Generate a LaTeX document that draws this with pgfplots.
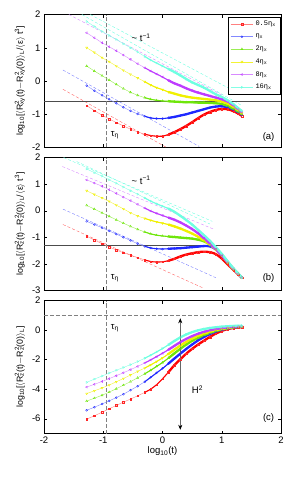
\documentclass[border=0pt]{standalone}
\usepackage{fontspec}
\setmainfont{Liberation Sans}
\newfontfamily\monofont{Liberation Mono}
\usepackage{pgfplots}
\usepackage{pgfplotstable}
\pgfplotsset{compat=1.18}
\usetikzlibrary{arrows.meta}

\definecolor{cR}{RGB}{255,0,0}
\definecolor{cB}{RGB}{30,40,255}
\definecolor{cG}{RGB}{110,230,10}
\definecolor{cY}{RGB}{240,240,0}
\definecolor{cP}{RGB}{190,60,255}
\definecolor{cC}{RGB}{110,255,225}

\pgfplotstableread{
x r b g y p c
-1.28 -0.74 -0.14 0.45 1.00 1.45 1.79
-1.15 -0.89 -0.29 0.30 0.86 1.30 1.64
-1.02 -1.03 -0.43 0.16 0.70 1.15 1.49
-0.90 -1.14 -0.55 0.03 0.58 1.03 1.37
-0.78 -1.25 -0.67 -0.10 0.45 0.91 1.25
-0.66 -1.35 -0.79 -0.23 0.32 0.78 1.12
-0.54 -1.45 -0.90 -0.34 0.20 0.65 1.00
-0.42 -1.53 -0.99 -0.43 0.09 0.52 0.87
-0.30 -1.60 -1.06 -0.50 -0.02 0.40 0.74
-0.20 -1.64 -1.11 -0.55 -0.12 0.30 0.63
-0.10 -1.66 -1.13 -0.58 -0.20 0.21 0.54
0.00 -1.66 -1.13 -0.60 -0.26 0.12 0.45
0.10 -1.61 -1.11 -0.61 -0.33 0.02 0.36
0.20 -1.54 -1.08 -0.62 -0.38 -0.07 0.27
0.30 -1.45 -1.04 -0.63 -0.43 -0.14 0.17
0.40 -1.35 -1.00 -0.64 -0.47 -0.22 0.06
0.50 -1.24 -0.95 -0.64 -0.50 -0.29 -0.04
0.60 -1.12 -0.90 -0.65 -0.52 -0.35 -0.12
0.70 -1.01 -0.85 -0.65 -0.54 -0.40 -0.20
0.80 -0.93 -0.80 -0.66 -0.56 -0.45 -0.30
0.90 -0.87 -0.77 -0.67 -0.58 -0.50 -0.40
1.00 -0.84 -0.76 -0.69 -0.62 -0.55 -0.48
1.10 -0.85 -0.79 -0.75 -0.68 -0.62 -0.58
1.20 -0.91 -0.86 -0.84 -0.78 -0.74 -0.70
1.28 -0.98 -0.94 -0.92 -0.88 -0.85 -0.82
1.34 -1.05 -1.02 -1.00 -0.97 -0.94 -0.90
}\tabA

\pgfplotstableread{
x r b g y p c
-1.28 -0.96 -0.40 0.20 0.75 1.16 1.57
-1.15 -1.10 -0.52 0.06 0.61 1.04 1.43
-1.02 -1.24 -0.64 -0.08 0.48 0.92 1.30
-0.90 -1.36 -0.76 -0.21 0.35 0.79 1.16
-0.78 -1.48 -0.88 -0.34 0.21 0.65 1.03
-0.66 -1.58 -1.00 -0.47 0.07 0.51 0.89
-0.54 -1.67 -1.12 -0.59 -0.08 0.38 0.75
-0.42 -1.76 -1.24 -0.70 -0.20 0.24 0.62
-0.30 -1.85 -1.34 -0.80 -0.29 0.10 0.48
-0.20 -1.91 -1.40 -0.87 -0.36 -0.01 0.36
-0.10 -1.93 -1.43 -0.92 -0.42 -0.10 0.26
0.00 -1.92 -1.44 -0.95 -0.47 -0.18 0.17
0.10 -1.88 -1.43 -0.97 -0.52 -0.26 0.08
0.20 -1.81 -1.42 -0.99 -0.59 -0.34 -0.04
0.30 -1.72 -1.41 -1.01 -0.67 -0.44 -0.19
0.40 -1.65 -1.39 -1.03 -0.76 -0.56 -0.35
0.50 -1.60 -1.37 -1.05 -0.86 -0.69 -0.52
0.60 -1.56 -1.35 -1.09 -0.98 -0.85 -0.72
0.70 -1.54 -1.33 -1.15 -1.12 -1.04 -0.92
0.80 -1.56 -1.34 -1.27 -1.28 -1.24 -1.13
0.90 -1.63 -1.45 -1.45 -1.46 -1.45 -1.37
1.00 -1.80 -1.68 -1.68 -1.68 -1.68 -1.62
1.10 -2.02 -1.95 -1.95 -1.95 -1.94 -1.90
1.20 -2.23 -2.20 -2.20 -2.20 -2.19 -2.17
1.28 -2.40 -2.38 -2.38 -2.38 -2.38 -2.36
1.34 -2.52 -2.52 -2.52 -2.52 -2.52 -2.52
}\tabB

\pgfplotstableread{
x r b g y p c
-1.28 -6.03 -5.43 -4.81 -4.30 -3.86 -3.54
-1.15 -5.80 -5.22 -4.61 -4.11 -3.67 -3.32
-1.02 -5.56 -5.00 -4.41 -3.92 -3.48 -3.11
-0.90 -5.33 -4.79 -4.20 -3.72 -3.29 -2.91
-0.78 -5.10 -4.57 -3.97 -3.50 -3.09 -2.72
-0.66 -4.88 -4.34 -3.73 -3.28 -2.89 -2.53
-0.54 -4.67 -4.07 -3.49 -3.04 -2.68 -2.34
-0.42 -4.45 -3.80 -3.23 -2.80 -2.46 -2.13
-0.30 -4.22 -3.50 -2.96 -2.57 -2.23 -1.91
-0.20 -4.00 -3.20 -2.72 -2.36 -2.02 -1.70
-0.10 -3.70 -2.90 -2.46 -2.13 -1.80 -1.48
0.00 -3.30 -2.60 -2.20 -1.89 -1.57 -1.25
0.10 -2.85 -2.27 -1.90 -1.62 -1.33 -1.00
0.20 -2.38 -1.93 -1.58 -1.33 -1.07 -0.74
0.30 -1.98 -1.60 -1.27 -1.05 -0.82 -0.50
0.40 -1.60 -1.28 -0.98 -0.80 -0.60 -0.30
0.50 -1.27 -0.98 -0.73 -0.58 -0.41 -0.14
0.60 -0.98 -0.70 -0.52 -0.39 -0.25 -0.02
0.70 -0.72 -0.47 -0.34 -0.24 -0.12 0.07
0.80 -0.46 -0.27 -0.19 -0.11 -0.02 0.14
0.90 -0.24 -0.10 -0.06 0.00 0.07 0.19
1.00 -0.06 0.02 0.04 0.08 0.13 0.23
1.10 0.07 0.11 0.12 0.15 0.18 0.26
1.20 0.14 0.17 0.18 0.20 0.22 0.28
1.28 0.18 0.20 0.21 0.22 0.24 0.29
1.34 0.19 0.21 0.22 0.23 0.25 0.30
}\tabC

\pgfplotsset{
  panel/.style={width=237pt, height=133pt, scale only axis,
    xmin=-2, xmax=2, xtick={-2,-1,0,1,2},
    tick align=inside, major tick length=3pt,
    tick style={black, line width=0.4pt},
    axis line style={black, line width=0.5pt},
    ticklabel style={font=\fontsize{9.5}{10}\selectfont},
    /pgf/number format/assume math mode=true,
    every axis y label/.style={at={(axis description cs:0,0.5)}, xshift=-24pt, rotate=90, anchor=center, font=\fontsize{8.8}{9}\selectfont},
    every axis x label/.style={at={(axis description cs:0.5,0)}, yshift=-18pt, anchor=center, font=\fontsize{9.5}{10}\selectfont},
    legend image code/.code={\draw[mark repeat=2,mark phase=2,##1] plot coordinates {(0cm,0cm) (0.4cm,0cm) (0.8cm,0cm)};},
  },
  sR/.style={cR!50, line width=0.4pt, mark=square, mark size=0.8pt, mark options={cR!85, solid, line width=0.3pt}},
  sB/.style={cB!55, line width=0.4pt, mark=o, mark size=1.0pt, mark options={cB, solid, line width=0.35pt}},
  sG/.style={cG!70, line width=0.4pt, mark=triangle, mark size=1.2pt, mark options={cG, solid, line width=0.35pt}},
  sY/.style={cY!80, line width=0.4pt, mark=triangle, mark size=1.2pt, mark options={cY, solid, rotate=180, line width=0.35pt}},
  sP/.style={cP!60, line width=0.4pt, mark=triangle, mark size=1.2pt, mark options={cP, solid, rotate=90, line width=0.35pt}},
  sC/.style={cC!85, line width=0.4pt, mark=triangle, mark size=1.2pt, mark options={cC, solid, rotate=-90, line width=0.35pt}},
}

\newcommand{\series}[4]{%
  \addplot[#3] table[x=x,y=#2]{#1};
  \addplot[forget plot, #4, line width=1.1pt, smooth, restrict x to domain=-0.35:1.4] table[x=x,y=#2]{#1};
  \addplot[forget plot, #4, line width=2.3pt, smooth, restrict x to domain=0.05:1.4] table[x=x,y=#2]{#1};
}
\newcommand{\allseries}[1]{%
  \series{#1}{r}{sR}{cR}
  \series{#1}{b}{sB}{cB}
  \series{#1}{g}{sG}{cG}
  \series{#1}{y}{sY}{cY}
  \series{#1}{p}{sP}{cP}
  \series{#1}{c}{sC}{cC}
}

\begin{document}
\begin{tikzpicture}
% ---------------- panel (a)
\begin{axis}[panel, at={(0pt,286pt)}, anchor=south west,
  ymin=-2, ymax=2, ytick={-2,-1,0,1,2}, xticklabels={},
  ylabel={log\textsubscript{10}[$\langle$R\rlap{\textsuperscript{2}}\textsubscript{xy}(t)$-$R\rlap{\textsuperscript{2}}\textsubscript{xy}(0)$\rangle$\textsubscript{L}/$\langle$ε$\rangle$ t\textsuperscript{3}]},
  legend style={at={(rel axis cs:0.996,0.981)}, anchor=north east, draw=black, line width=0.5pt,
    font=\monofont\fontsize{7}{8}\selectfont, cells={anchor=west}, row sep=2.6pt, inner sep=2pt},
  legend entries={0.5η\textsubscript{x}, η\textsubscript{x}, 2η\textsubscript{x}, 4η\textsubscript{x}, 8η\textsubscript{x}, 16η\textsubscript{x}},
]
\addplot[forget plot, cR!60, dash pattern=on 3pt off 2pt, line width=0.4pt] coordinates {(-1.68,-0.25) (0.07,-2.0)};
\addplot[forget plot, cB!60, dash pattern=on 3pt off 2pt, line width=0.4pt] coordinates {(-1.68,0.33) (0.62,-1.97)};
\addplot[forget plot, cP!60, dash pattern=on 3pt off 2pt, line width=0.4pt] coordinates {(-1.58,2.0) (1.0,-0.42)};
\addplot[forget plot, cC, dash pattern=on 3pt off 2pt, line width=0.4pt] coordinates {(-1.36,2.0) (1.32,-0.72)};
\addplot[forget plot, cC, dash pattern=on 3pt off 2pt, line width=0.4pt] coordinates {(-1.22,2.0) (1.1,-0.2)};
\addplot[forget plot, black!70, line width=0.5pt] coordinates {(-2,-0.6) (2,-0.6)};
\addplot[forget plot, gray, dash pattern=on 4pt off 2pt, line width=0.6pt] coordinates {(-0.95,-2) (-0.95,2)};
\allseries{\tabA}
\node[font=\fontsize{9.5}{10}\selectfont] at (axis cs:-0.36,1.3) {\textasciitilde\ t\textsuperscript{−1}};
\node[font=\fontsize{9.5}{10}\selectfont, anchor=west] at (axis cs:-0.93,-1.63) {τ\textsubscript{η}};
\node[font=\fontsize{9.5}{10}\selectfont] at (axis cs:1.79,-1.68) {(a)};
\end{axis}
% ---------------- panel (b)
\begin{axis}[panel, at={(0pt,143pt)}, anchor=south west,
  ymin=-3, ymax=2, ytick={-3,-2,-1,0,1,2}, xticklabels={},
  ylabel={log\textsubscript{10}[$\langle$R\rlap{\textsuperscript{2}}\textsubscript{z}(t)$-$R\rlap{\textsuperscript{2}}\textsubscript{z}(0)$\rangle$\textsubscript{L}/$\langle$ε$\rangle$ t\textsuperscript{3}]},
]
\addplot[forget plot, cR!60, dash pattern=on 3pt off 2pt, line width=0.4pt] coordinates {(-1.68,-0.52) (0.7,-2.92)};
\addplot[forget plot, cB!60, dash pattern=on 3pt off 2pt, line width=0.4pt] coordinates {(-1.68,0.06) (0.9,-2.52)};
\addplot[forget plot, cP!60, dash pattern=on 3pt off 2pt, line width=0.4pt] coordinates {(-1.69,1.66) (0.87,-0.7)};
\addplot[forget plot, cC, dash pattern=on 3pt off 2pt, line width=0.4pt] coordinates {(-1.67,2.0) (0.84,-0.4)};
\addplot[forget plot, cC, dash pattern=on 3pt off 2pt, line width=0.4pt] coordinates {(-1.45,1.85) (0.8,-0.5)};
\addplot[forget plot, black!70, line width=0.5pt] coordinates {(-2,-1.3) (2,-1.3)};
\addplot[forget plot, gray, dash pattern=on 4pt off 2pt, line width=0.6pt] coordinates {(-0.95,-3) (-0.95,2)};
\allseries{\tabB}
\node[font=\fontsize{9.5}{10}\selectfont] at (axis cs:-0.36,1.16) {\textasciitilde\ t\textsuperscript{−1}};
\node[font=\fontsize{9.5}{10}\selectfont, anchor=west] at (axis cs:-0.93,-2.52) {τ\textsubscript{η}};
\node[font=\fontsize{9.5}{10}\selectfont] at (axis cs:1.79,-2.55) {(b)};
\end{axis}
% ---------------- panel (c)
\begin{axis}[panel, at={(0pt,0pt)}, anchor=south west,
  ymin=-7, ymax=2, ytick={-6,-4,-2,0,2},
  xlabel={log\textsubscript{10}(t)},
  ylabel={log\textsubscript{10}[$\langle$R\rlap{\textsuperscript{2}}\textsubscript{z}(t)$-$R\rlap{\textsuperscript{2}}\textsubscript{z}(0)$\rangle$\textsubscript{L}]},
]
\addplot[forget plot, gray, dash pattern=on 4pt off 2pt, line width=0.6pt] coordinates {(-2,1) (2,1)};
\addplot[forget plot, gray, dash pattern=on 4pt off 2pt, line width=0.6pt] coordinates {(-0.95,-7) (-0.95,2)};
\allseries{\tabC}
\draw[gray!80!black, line width=0.6pt, {Stealth[black,length=5pt,width=4pt]}-{Stealth[black,length=5pt,width=4pt]}] (axis cs:0.3,0.8) -- (axis cs:0.3,-6.75);
\node[font=\fontsize{9.5}{10}\selectfont] at (axis cs:0.59,-4.03) {H\textsuperscript{2}};
\node[font=\fontsize{9.5}{10}\selectfont, anchor=west] at (axis cs:-0.93,0.12) {τ\textsubscript{η}};
\node[font=\fontsize{9.5}{10}\selectfont] at (axis cs:1.79,-5.97) {(c)};
\end{axis}
\pgfresetboundingbox
\path (-44pt,-59.5pt) rectangle (251pt,433.5pt);
\end{tikzpicture}
\end{document}
